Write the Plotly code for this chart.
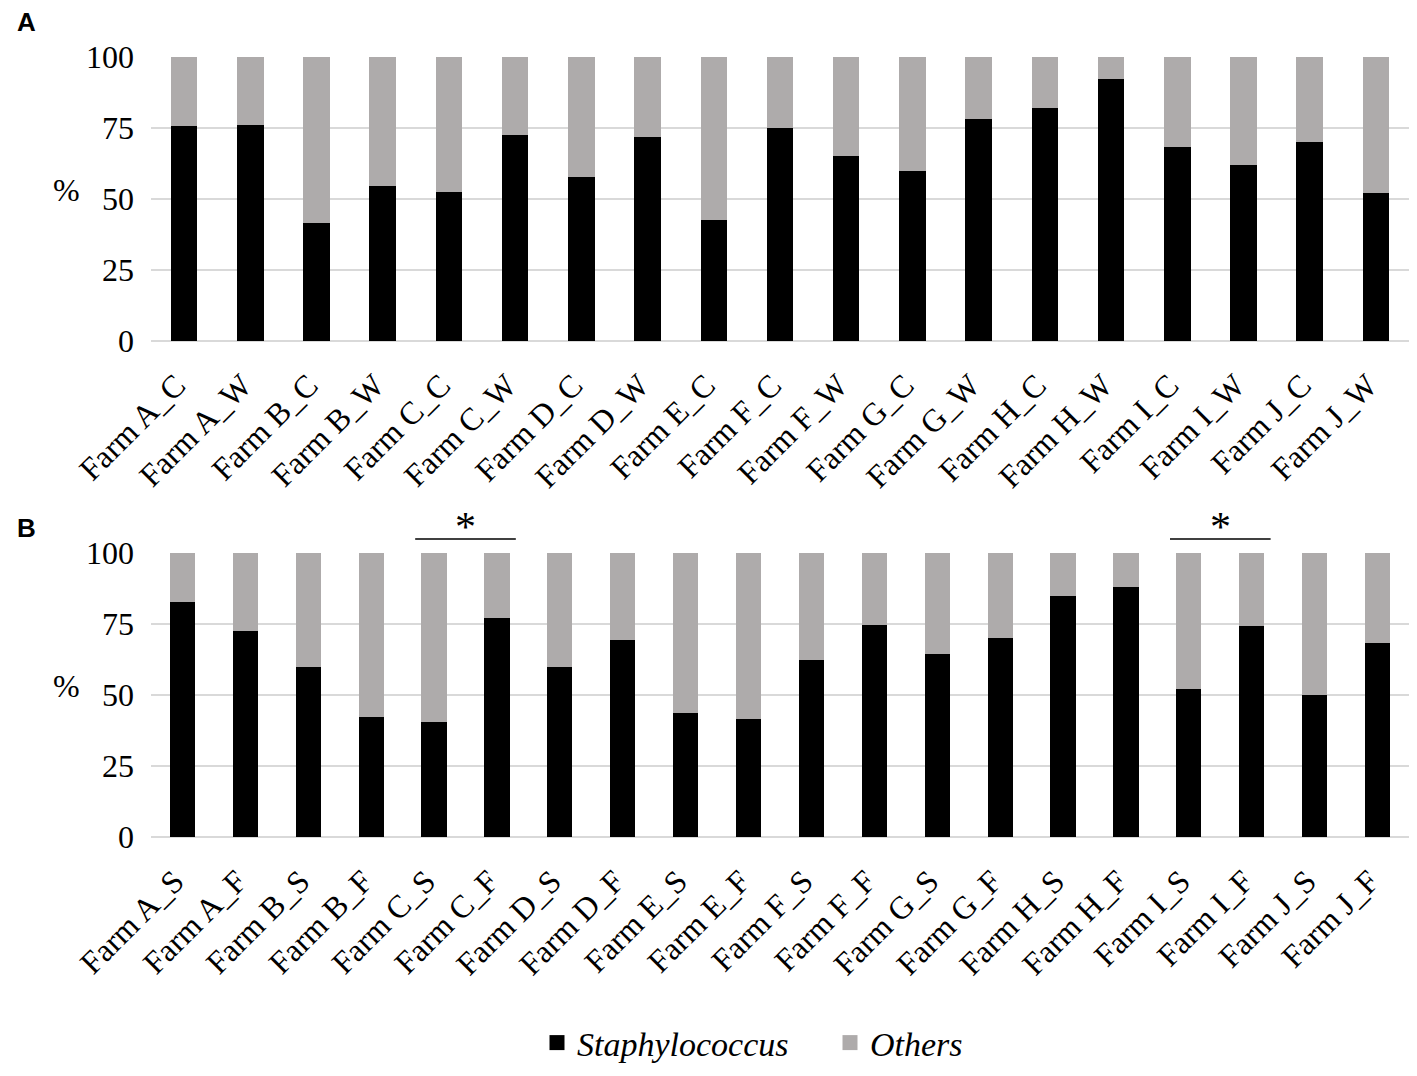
import plotly.graph_objects as go
from plotly.subplots import make_subplots

# Panel A: sampling by season (C / W)
farms_a = ["Farm A_C", "Farm A_W", "Farm B_C", "Farm B_W", "Farm C_C", "Farm C_W",
           "Farm D_C", "Farm D_W", "Farm E_C", "Farm F_C", "Farm F_W", "Farm G_C",
           "Farm G_W", "Farm H_C", "Farm H_W", "Farm I_C", "Farm I_W", "Farm J_C",
           "Farm J_W"]
staph_a = [75.6, 76.1, 41.6, 54.5, 52.5, 72.6, 57.7, 72.0, 42.5, 75.1,
           65.2, 59.8, 78.1, 82.1, 92.2, 68.4, 62.1, 70.0, 52.1]

# Panel B: sampling by site (S / F)
farms_b = ["Farm A_S", "Farm A_F", "Farm B_S", "Farm B_F", "Farm C_S", "Farm C_F",
           "Farm D_S", "Farm D_F", "Farm E_S", "Farm E_F", "Farm F_S", "Farm F_F",
           "Farm G_S", "Farm G_F", "Farm H_S", "Farm H_F", "Farm I_S", "Farm I_F",
           "Farm J_S", "Farm J_F"]
staph_b = [82.6, 72.5, 60.0, 42.1, 40.5, 77.0, 60.0, 69.5, 43.5, 41.5,
           62.4, 74.8, 64.5, 70.0, 85.0, 88.2, 52.1, 74.2, 50.0, 68.2]

others_a = [100 - v for v in staph_a]
others_b = [100 - v for v in staph_b]

# significant pairs in panel B
sig_pairs = [("Farm C_S", "Farm C_F"), ("Farm I_S", "Farm I_F")]

black = "#000000"
grey = "#aeabab"
serif = "Liberation Serif, Times New Roman, serif"

W, H = 1417, 1076
OFF = 8  # page body margin
L, R = 151 - OFF, W - (1409 - OFF)
PW = W - L - R


def py(p):  # pixel row (page) -> paper y
    return 1 - (p - OFF) / H


def px(p):  # pixel column (page) -> paper x
    return (p - OFF - L) / PW


fig = make_subplots(rows=2, cols=1)

for row, cats, s, o in [(1, farms_a, staph_a, others_a), (2, farms_b, staph_b, others_b)]:
    fig.add_trace(go.Bar(x=cats, y=s, marker=dict(color=black, line=dict(width=0)),
                         showlegend=False), row=row, col=1)
    fig.add_trace(go.Bar(x=cats, y=o, marker=dict(color=grey, line=dict(width=0)),
                         showlegend=False), row=row, col=1)

# legend entries with square symbols
for name, col in [("<i>Staphylococcus</i>", black), ("<i>Others</i>", grey)]:
    fig.add_trace(go.Scatter(x=[None], y=[None], mode="markers", name=name,
                             marker=dict(symbol="square", size=15, color=col)),
                  row=1, col=1)

axis_y = dict(range=[0, 100], tickvals=[0, 25, 50, 75, 100], showgrid=True,
              gridcolor="#d9d9d9", gridwidth=1.5, zeroline=True,
              zerolinecolor="#d9d9d9", zerolinewidth=1.5, showline=False,
              ticks="", ticklabelstandoff=16, automargin=False,
              tickfont=dict(family=serif, size=32, color="black"))
axis_x = dict(tickangle=-45, showline=False, ticks="", showgrid=False,
              automargin=False, ticklabelstandoff=18, ticklabelshift=-8,
              tickfont=dict(family=serif, size=32, color="black"))

fig.update_layout(
    width=W, height=H,
    barmode="stack", bargap=0.6,
    plot_bgcolor="white", paper_bgcolor="white",
    margin=dict(l=L, r=R, t=0, b=0),
    xaxis=dict(axis_x, domain=[0, 1]),
    xaxis2=dict(axis_x, domain=[0, 1]),
    yaxis=dict(axis_y, domain=[py(341), py(57)]),
    yaxis2=dict(axis_y, domain=[py(837), py(553)]),
    legend=dict(orientation="h", x=px(537), xanchor="left", y=py(1043),
                yanchor="middle", font=dict(family=serif, size=34, color="black"),
                entrywidth=248, entrywidthmode="pixels", traceorder="normal"),
    showlegend=True,
)

# panel letters and "%" labels
for letter, ytop in [("A", 22), ("B", 528)]:
    fig.add_annotation(text="<b>" + letter + "</b>", xref="paper", yref="paper",
                       x=px(26), y=py(ytop),
                       xanchor="center", yanchor="middle", showarrow=False,
                       font=dict(family="Liberation Sans, Arial", size=26, color="black"))
for yref in ["y", "y2"]:
    fig.add_annotation(text="%", xref="paper", yref=yref,
                       x=px(66), y=53, xanchor="center",
                       yanchor="middle", showarrow=False,
                       font=dict(family=serif, size=32, color="black"))

# significance brackets
for a, b in sig_pairs:
    i0, i1 = farms_b.index(a), farms_b.index(b)
    fig.add_shape(type="line", xref="x2", yref="paper", x0=i0 - 0.3, x1=i1 + 0.3,
                  y0=py(539), y1=py(539), line=dict(color="black", width=1.5))
    fig.add_annotation(text="*", xref="x2", yref="paper", x=(i0 + i1) / 2, y=py(539),
                       yanchor="bottom", showarrow=False, yshift=-13,
                       font=dict(family=serif, size=42, color="black"))

fig.write_html("out.html")
